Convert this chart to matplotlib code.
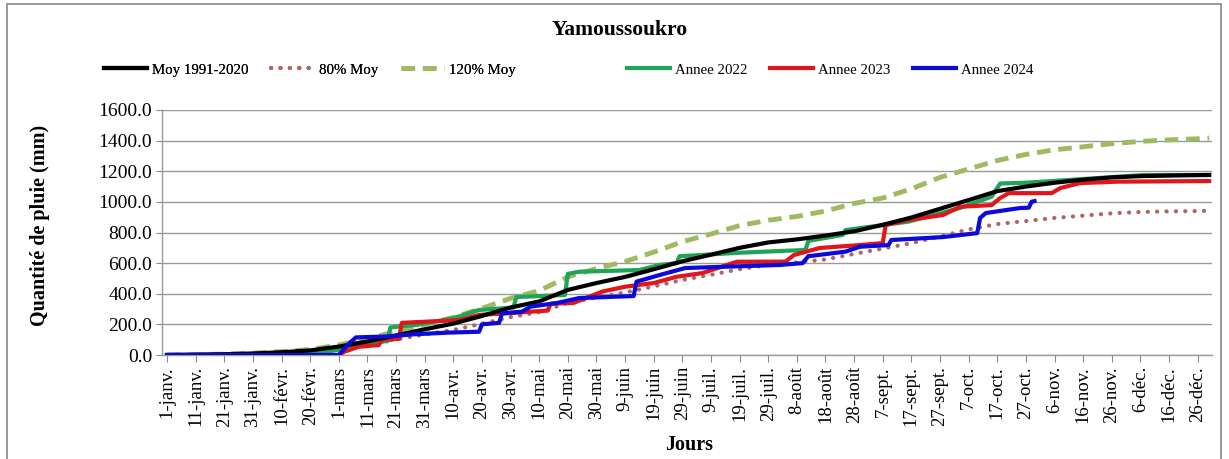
import matplotlib
matplotlib.use("Agg")
import matplotlib.pyplot as plt
from matplotlib.patches import Rectangle
from matplotlib.ticker import FormatStrFormatter

plt.rcParams['font.family'] = ['Liberation Serif', 'DejaVu Serif']

# ---- data (day of year, 0 = 1 January) ----
tick_days = list(range(0, 361, 10))
tick_labels = ["1-janv.", "11-janv.", "21-janv.", "31-janv.", "10-févr.", "20-févr.",
               "1-mars", "11-mars", "21-mars", "31-mars", "10-avr.", "20-avr.",
               "30-avr.", "10-mai", "20-mai", "30-mai", "9-juin", "19-juin",
               "29-juin", "9-juil.", "19-juil.", "29-juil.", "8-août", "18-août",
               "28-août", "7-sept.", "17-sept.", "27-sept.", "7-oct.", "17-oct.",
               "27-oct.", "6-nov.", "16-nov.", "26-nov.", "6-déc.", "16-déc.", "26-déc."]

ref_days = [0, 10, 20, 30, 40, 50, 60, 70, 80, 90, 100, 110, 120, 130, 140, 150, 160, 170,
            180, 190, 200, 210, 220, 230, 240, 250, 260, 270, 280, 290, 300, 310, 320, 330,
            340, 350, 360, 364]
moy = [0, 2, 5, 10, 18, 30, 55, 88, 128, 168, 205, 255, 310, 350, 425, 470, 510, 560,
       612, 655, 700, 735, 755, 780, 808, 850, 898, 955, 1012, 1070, 1100, 1125, 1145, 1160,
       1168, 1172, 1175, 1176]
moy80 = [0, 2, 4, 8, 14, 24, 44, 70, 102, 134, 164, 204, 248, 280, 340, 376, 408, 448,
         490, 524, 560, 588, 604, 624, 660, 695, 730, 775, 820, 855, 875, 895, 910, 925,
         934, 938, 940, 942]
moy120 = [0, 2, 6, 12, 22, 36, 66, 105, 155, 200, 245, 305, 370, 420, 510, 565, 610, 672,
          740, 790, 845, 880, 905, 940, 990, 1025, 1085, 1160, 1215, 1270, 1310, 1340, 1360,
          1380, 1395, 1405, 1412, 1417]

d2022 = [0, 40, 55, 62, 66, 77, 78, 87, 100, 109, 121, 122, 130, 139, 140, 144, 165, 172,
         178, 179, 200, 223, 224, 236, 237, 259, 277, 288, 291, 300, 341, 364]
v2022 = [0, 5, 20, 40, 78, 90, 180, 196, 240, 294, 310, 378, 385, 392, 530, 544, 555, 588,
         600, 645, 668, 686, 745, 784, 816, 871, 960, 1034, 1120, 1125, 1175, 1175]

d2023 = [0, 60, 62, 67, 74, 75, 81, 82, 102, 109, 120, 127, 133, 134, 142, 152, 160, 170,
         178, 187, 199, 216, 219, 228, 242, 250, 251, 259, 271, 277, 288, 291, 294, 309,
         312, 319, 332, 364]
v2023 = [0, 0, 22, 54, 65, 100, 105, 210, 228, 262, 274, 283, 290, 335, 340, 414, 446, 470,
         511, 535, 609, 610, 653, 699, 718, 731, 849, 882, 914, 968, 979, 1025, 1057, 1057,
         1090, 1123, 1132, 1136]

d2024 = [0, 60, 61, 63, 66, 78, 86, 98, 109, 110, 116, 117, 124, 127, 136, 144, 163, 164,
         172, 181, 214, 222, 224, 237, 242, 252, 253, 271, 283, 284, 286, 298, 301, 302, 303]
v2024 = [0, 0, 20, 65, 115, 122, 135, 146, 152, 200, 210, 272, 283, 316, 339, 372, 385, 479,
         522, 568, 588, 600, 645, 675, 707, 718, 751, 770, 796, 895, 927, 960, 962, 1001, 1005]

# ---- figure ----
fig = plt.figure(figsize=(12.29, 4.59), dpi=100)
ax = fig.add_axes([162 / 1229, 1 - 355 / 459, (1212 - 162) / 1229, (355 - 110) / 459])

h_moy, = ax.plot(ref_days, moy, color='black', lw=3, label='Moy 1991-2020', zorder=5)
h80, = ax.plot(ref_days, moy80, color='#B06468', lw=3, linestyle=(0, (0.05, 2.2)),
               dash_capstyle='round', label='80% Moy', zorder=3)
h120, = ax.plot(ref_days, moy120, color='#9FBA62', lw=3.5, linestyle=(0, (2.8, 1.6)),
                label='120% Moy', zorder=3)
h22, = ax.plot(d2022, v2022, color='#1FA557', lw=3, label='Annee 2022', zorder=4)
h23, = ax.plot(d2023, v2023, color='#E0161A', lw=3, label='Annee 2023', zorder=4)
h24, = ax.plot(d2024, v2024, color='#0A0ADB', lw=3, label='Annee 2024', zorder=6)

ax.set_xlim(-1.75, 365)
ax.set_ylim(0, 1600)
ax.set_yticks(range(0, 1601, 200))
ax.yaxis.set_major_formatter(FormatStrFormatter('%.1f'))
ax.set_xticks(tick_days)
ax.set_xticklabels(tick_labels, rotation=90)
ax.tick_params(axis='x', labelsize=13.5, length=5, color='#888888', pad=3)
ax.tick_params(axis='y', labelsize=14, length=4, color='#888888', pad=3)

ax.grid(axis='y', color='#9a9a9a', lw=1)
ax.set_axisbelow(True)
for s in ['top', 'right']:
    ax.spines[s].set_visible(False)
for s in ['left', 'bottom']:
    ax.spines[s].set_color('#9a9a9a')
    ax.spines[s].set_linewidth(1)

fig.text(40 / 1229, 1 - 225 / 459, 'Quantité de pluie (mm)', rotation=90, fontsize=14.5,
         fontweight='bold', ha='center', va='center')
fig.text(689 / 1229, 1 - 445 / 459, 'Jours', fontsize=14.5, fontweight='bold',
         ha='center', va='center')
fig.text(620 / 1229, 1 - 30 / 459, 'Yamoussoukro', fontsize=15.5, fontweight='bold',
         ha='center', va='center')

leg_kw = dict(loc='center', ncol=3, frameon=False, fontsize=10.7, handlelength=2.9,
              handletextpad=0.35, columnspacing=1.5)
leg1 = fig.legend(handles=[h_moy, h80, h120], bbox_to_anchor=(310 / 1229, 1 - 70 / 459),
                  **leg_kw)
fig.add_artist(leg1)
fig.legend(handles=[h22, h23, h24], bbox_to_anchor=(830 / 1229, 1 - 70 / 459), **leg_kw)

fig.patches.append(Rectangle((7 / 1229, -0.01), (1221 - 7) / 1229, 1 - 4 / 459 + 0.01,
                             transform=fig.transFigure, fill=False, edgecolor='#888888',
                             lw=1.2))

fig.savefig('out.png', dpi=100)
